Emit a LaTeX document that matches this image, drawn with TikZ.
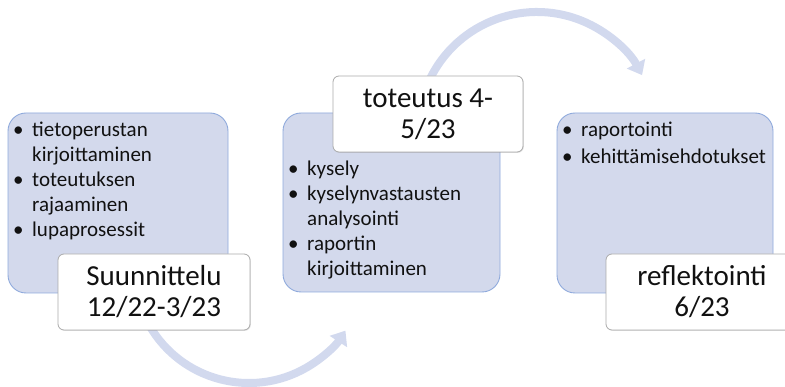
\documentclass[tikz,border=0pt]{standalone}
\usepackage{fontspec}
\setmainfont{Carlito}
\usetikzlibrary{arrows.meta,shadows}
\definecolor{boxfill}{HTML}{D3D9EC}
\definecolor{boxline}{HTML}{8FAADC}
\definecolor{arcblue}{HTML}{D2D9EE}
\definecolor{labline}{HTML}{ABABAB}
\definecolor{txt}{HTML}{111111}
\tikzset{
  x=1pt,y=-1pt,
  phasebox/.style={draw=boxline,line width=0.9pt,fill=boxfill,rounded corners=18pt},
  labelbox/.style={draw=labline,line width=0.8pt,fill=white,rounded corners=6pt,
    drop shadow={shadow xshift=0.8pt,shadow yshift=-0.8pt,opacity=0.25}},
  bullets/.style={anchor=north west,inner sep=0pt,text=txt,font=\fontsize{21}{25}\selectfont,align=left},
  phaselabel/.style={anchor=center,inner sep=0pt,text=txt,font=\fontsize{29}{31}\selectfont,align=center},
  flowarc/.style={draw=arcblue,line width=8pt,-{Triangle[width=20pt,length=13pt]}}
}
\newcommand{\bl}[1]{\makebox[19pt][l]{\textbullet}#1}
\newcommand{\cont}[1]{\hspace*{19pt}#1}
\begin{document}
\begin{tikzpicture}
\useasboundingbox (0,0) rectangle (785,387);

% connecting arcs between the phases
\coordinate (c1) at (249,268);
\coordinate (c2) at (537,131);
\draw[flowarc] ([shift={(150:115)}]c1) arc[start angle=150,end angle=33,radius=115];
\draw[flowarc] ([shift={(-155:119)}]c2) arc[start angle=-155,end angle=-28,radius=119];

% phase boxes
\path[phasebox] (8,113) rectangle (228,293);
\path[phasebox] (283,113) rectangle (500,292);
\path[phasebox] (557,113) rectangle (773,293);

% bullet lists
\node[bullets] (l1) at (13,121.5) {\bl{tietoperustan}\\\cont{kirjoittaminen}\\\bl{toteutuksen}\\\cont{rajaaminen}\\\bl{lupaprosessit}};
\node[bullets] (l2) at (288,161) {\bl{kysely}\\\bl{kyselynvastausten}\\\cont{analysointi}\\\bl{raportin}\\\cont{kirjoittaminen}};
\node[bullets] (l3) at (562,121.5) {\bl{raportointi}\\[2pt]\bl{kehittämisehdotukset}};

% phase labels
\path[labelbox] (58,254) rectangle (250,330);
\path[labelbox] (333,76) rectangle (523,152);
\path[labelbox] (606,254) rectangle (798,330);
\node[phaselabel] (p1) at (154,292) {Suunnittelu\\12/22-3/23};
\node[phaselabel] (p2) at (428,114) {toteutus 4-\\5/23};
\node[phaselabel] (p3) at (702,292) {reflektointi\\6/23};
\end{tikzpicture}
\end{document}
